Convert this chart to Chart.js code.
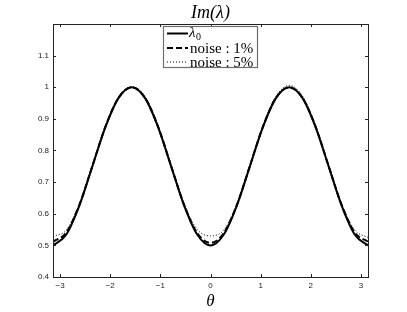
<!DOCTYPE html>
<html><head><meta charset="utf-8">
<script src="https://cdn.jsdelivr.net/npm/chart.js@4/dist/chart.umd.min.js"></script>
<style>html,body{margin:0;padding:0;background:#fff}#wrap{width:407px;height:312px}</style>
</head><body><div id="wrap"><canvas id="c" width="407" height="312"></canvas></div>
<script>
const theta = [-3.1416, -2.8798, -2.6180, -2.3562, -2.0944, -1.8326, -1.5708, -1.3090, -1.0472, -0.7854, -0.5236, -0.2618, 0, 0.2618, 0.5236, 0.7854, 1.0472, 1.3090, 1.5708, 1.8326, 2.0944, 2.3562, 2.6180, 2.8798, 3.1416];
const lambda0 = [0.5, 0.5335, 0.625, 0.75, 0.875, 0.9665, 1.0, 0.9665, 0.875, 0.75, 0.625, 0.5335, 0.5, 0.5335, 0.625, 0.75, 0.875, 0.9665, 1.0, 0.9665, 0.875, 0.75, 0.625, 0.5335, 0.5];
const noise1 = [0.512, 0.540, 0.627, 0.751, 0.876, 0.967, 1.0, 0.967, 0.876, 0.751, 0.627, 0.538, 0.508, 0.538, 0.627, 0.751, 0.876, 0.967, 1.0, 0.967, 0.876, 0.751, 0.627, 0.540, 0.512];
const noise5 = [0.528, 0.548, 0.630, 0.752, 0.879, 0.970, 1.002, 0.972, 0.880, 0.754, 0.630, 0.550, 0.530, 0.548, 0.630, 0.754, 0.880, 0.972, 1.006, 0.973, 0.880, 0.753, 0.630, 0.548, 0.525];
const seriesLabels = ['λ₀', 'noise : 1%', 'noise : 5%'];
const xTicks = [-3, -2, -1, 0, 1, 2, 3];
const yTicks = [0.4, 0.5, 0.6, 0.7, 0.8, 0.9, 1, 1.1];
const titleText = 'Im(λ)';
const xLabel = 'θ';

const pts = arr => arr.map((v, i) => ({x: theta[i], y: v}));
const styles = [
  {borderWidth: 2, borderDash: []},
  {borderWidth: 2, borderDash: [6, 3]},
  {borderWidth: 1, borderDash: [1, 2]}
];

const frame = {
  id: 'frame',
  afterDraw(chart) {
    const {ctx, chartArea: a, scales: {x, y}} = chart;
    ctx.save();
    ctx.fillStyle = '#000';
    ctx.textAlign = 'center';
    ctx.textBaseline = 'middle';
    ctx.font = 'italic 18px "Liberation Serif"';
    ctx.fillText(titleText, (a.left + a.right) / 2, 13);
    ctx.textAlign = 'left';
    ctx.strokeStyle = '#222';
    ctx.lineWidth = 1;
    ctx.setLineDash([]);
    ctx.strokeRect(Math.round(a.left) + 0.5, Math.round(a.top) + 0.5, Math.round(a.right - a.left), Math.round(a.bottom - a.top));
    const tl = 3;
    ctx.beginPath();
    xTicks.forEach(v => {
      const px = Math.round(x.getPixelForValue(v)) + 0.5;
      ctx.moveTo(px, a.bottom); ctx.lineTo(px, a.bottom - tl);
      ctx.moveTo(px, a.top); ctx.lineTo(px, a.top + tl);
    });
    yTicks.forEach(v => {
      const py = Math.round(y.getPixelForValue(v)) + 0.5;
      ctx.moveTo(a.left, py); ctx.lineTo(a.left + tl, py);
      ctx.moveTo(a.right, py); ctx.lineTo(a.right - tl, py);
    });
    ctx.stroke();
    const bx = 163.5, by = 26.5, bw = 94, bh = 41;
    ctx.fillStyle = '#fff';
    ctx.fillRect(bx, by, bw, bh);
    ctx.strokeStyle = '#6e6e6e';
    ctx.lineWidth = 1.2;
    ctx.strokeRect(bx, by, bw, bh);
    const rows = [33.5, 48, 62];
    chart.data.datasets.forEach((ds, i) => {
      const ry = rows[i];
      ctx.strokeStyle = '#000';
      ctx.lineWidth = ds.borderWidth;
      ctx.setLineDash(ds.borderDash);
      ctx.beginPath(); ctx.moveTo(167, ry); ctx.lineTo(188, ry); ctx.stroke();
      ctx.setLineDash([]);
      ctx.fillStyle = '#000';
      ctx.textBaseline = 'middle';
      ctx.font = '15px "Liberation Serif"';
      const lab = ds.label;
      if (lab.endsWith('₀')) {
        const main = lab.slice(0, -1);
        ctx.font = 'italic 15px "Liberation Serif"';
        ctx.fillText(main, 189, ry);
        const w = ctx.measureText(main).width;
        ctx.font = '10px "Liberation Serif"';
        ctx.fillText('0', 189 + w + 0.5, ry + 4);
      } else {
        ctx.fillText(lab, 190, ry + 1);
      }
    });
    ctx.restore();
  }
};

new Chart(document.getElementById('c'), {
  type: 'line',
  data: {
    datasets: [lambda0, noise1, noise5].map((arr, i) => ({
      label: seriesLabels[i],
      data: pts(arr),
      borderColor: '#000',
      backgroundColor: '#000',
      borderWidth: styles[i].borderWidth,
      borderDash: styles[i].borderDash,
      pointRadius: 0,
      cubicInterpolationMode: 'monotone',
      fill: false
    }))
  },
  options: {
    responsive: false,
    animation: false,
    layout: {padding: {left: 0, right: 39, top: 24, bottom: 0}},
    plugins: {
      legend: {display: false},
      tooltip: {enabled: false},
      title: {display: false}
    },
    scales: {
      x: {
        type: 'linear',
        min: -Math.PI, max: Math.PI,
        afterBuildTicks: s => { s.ticks = xTicks.map(v => ({value: v})); },
        afterFit: s => { s.height = 35; },
        grid: {display: false, drawTicks: false},
        border: {display: false},
        ticks: {
          color: '#222', padding: 4,
          font: {family: '"Liberation Sans"', size: 8},
          callback: v => (v < 0 ? '\u2212' + Math.abs(v) : String(v))
        },
        title: {
          display: true, text: xLabel, color: '#000',
          font: {family: '"Liberation Serif"', size: 17, style: 'italic'},
          padding: {top: 0, bottom: 0}
        }
      },
      y: {
        type: 'linear',
        min: 0.4, max: 1.2,
        afterBuildTicks: s => { s.ticks = yTicks.map(v => ({value: v})); },
        afterFit: s => { s.width = 53; },
        grid: {display: false, drawTicks: false},
        border: {display: false},
        ticks: {
          color: '#222', padding: 4,
          font: {family: '"Liberation Sans"', size: 8},
          callback: v => String(Math.round(v * 10) / 10)
        }
      }
    }
  },
  plugins: [frame]
});
</script></body></html>
